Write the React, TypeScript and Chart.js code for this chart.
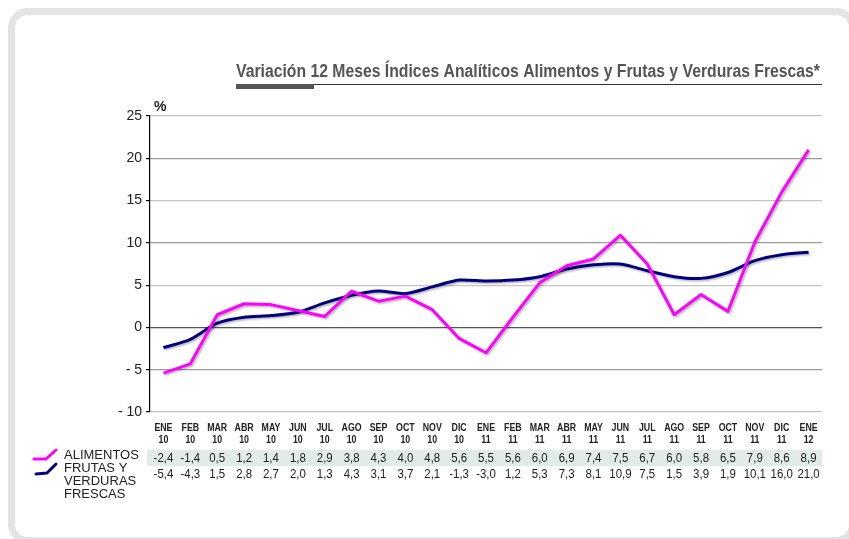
import React, { useEffect, useRef } from "react";
import { Chart, registerables } from "chart.js";

Chart.register(...registerables);

const months = ["ENE", "FEB", "MAR", "ABR", "MAY", "JUN", "JUL", "AGO", "SEP", "OCT", "NOV", "DIC", "ENE", "FEB", "MAR", "ABR", "MAY", "JUN", "JUL", "AGO", "SEP", "OCT", "NOV", "DIC", "ENE"];
const years = ["10", "10", "10", "10", "10", "10", "10", "10", "10", "10", "10", "10", "11", "11", "11", "11", "11", "11", "11", "11", "11", "11", "11", "11", "12"];
// Row labelled ALIMENTOS in the table (drawn as the navy line in the picture)
const rowAlimentos = [-2.4, -1.4, 0.5, 1.2, 1.4, 1.8, 2.9, 3.8, 4.3, 4.0, 4.8, 5.6, 5.5, 5.6, 6.0, 6.9, 7.4, 7.5, 6.7, 6.0, 5.8, 6.5, 7.9, 8.6, 8.9];
// Row labelled FRUTAS Y VERDURAS FRESCAS in the table (drawn as the magenta line)
const rowFrutas = [-5.4, -4.3, 1.5, 2.8, 2.7, 2.0, 1.3, 4.3, 3.1, 3.7, 2.1, -1.3, -3.0, 1.2, 5.3, 7.3, 8.1, 10.9, 7.5, 1.5, 3.9, 1.9, 10.1, 16.0, 21.0];
const legendLabels = ["ALIMENTOS", "FRUTAS Y VERDURAS FRESCAS"];
const title = "Variación 12 Meses Índices Analíticos Alimentos y Frutas y Verduras Frescas*";

const MAGENTA = "#ff00ff";
const NAVY = "#000080";
const fmt = (v: number) => v.toFixed(1).replace(".", ",");

export default function App() {
  const ref = useRef<HTMLCanvasElement | null>(null);

  useEffect(() => {
    const canvas = ref.current;
    if (!canvas) return;
    document.body.style.overflow = "hidden";

    const decor = {
      id: "decor",
      beforeDatasetDraw(chart: any) {
        const ctx = chart.ctx;
        ctx.shadowColor = "rgba(0,0,0,0.28)";
        ctx.shadowOffsetX = 1.5;
        ctx.shadowOffsetY = 1.5;
        ctx.shadowBlur = 2;
      },
      afterDatasetDraw(chart: any) {
        const ctx = chart.ctx;
        ctx.shadowColor = "rgba(0,0,0,0)";
        ctx.shadowOffsetX = 0;
        ctx.shadowOffsetY = 0;
        ctx.shadowBlur = 0;
      },
      afterDraw(chart: any) {
        const ctx = chart.ctx;
        const xs = chart.scales.x;
        const area = chart.chartArea;
        ctx.save();
        // table row background
        ctx.fillStyle = "#e1ece7";
        ctx.fillRect(area.left - 3, 450, area.right - area.left + 3, 16);

        // Title
        ctx.fillStyle = "#555555";
        ctx.font = "bold 18px 'Liberation Sans', Arial, sans-serif";
        ctx.textBaseline = "alphabetic";
        ctx.textAlign = "left";
        const tw = ctx.measureText(title).width;
        const targetW = 584;
        ctx.save();
        ctx.translate(236, 76.5);
        ctx.scale(targetW / tw, 1);
        ctx.fillText(title, 0, 0);
        ctx.restore();
        // underline
        ctx.strokeStyle = "#333333";
        ctx.lineWidth = 1;
        ctx.beginPath();
        ctx.moveTo(236, 84.5);
        ctx.lineTo(822, 84.5);
        ctx.stroke();
        ctx.fillStyle = "#555555";
        ctx.fillRect(236, 84, 78, 5);

        // %
        ctx.fillStyle = "#222222";
        ctx.font = "bold 14px 'Liberation Sans', Arial, sans-serif";
        ctx.textAlign = "left";
        ctx.textBaseline = "middle";
        ctx.fillText("%", 154, 107);

        // table header
        for (let i = 0; i < months.length; i++) {
          const x = xs.getPixelForValue(i);
          ctx.save();
          ctx.translate(x, 0);
          ctx.scale(0.8, 1);
          ctx.font = "bold 11px 'Liberation Sans', Arial, sans-serif";
          ctx.textAlign = "center";
          ctx.textBaseline = "middle";
          ctx.fillStyle = "#222222";
          ctx.fillText(months[i], 0, 428);
          ctx.fillText(years[i], 0, 440);
          ctx.restore();
        }
        // table values
        for (let i = 0; i < months.length; i++) {
          const x = xs.getPixelForValue(i);
          ctx.save();
          ctx.translate(x, 0);
          ctx.scale(0.88, 1);
          ctx.font = "13px 'Liberation Sans', Arial, sans-serif";
          ctx.textAlign = "center";
          ctx.textBaseline = "middle";
          ctx.fillStyle = "#222222";
          ctx.fillText(fmt(rowAlimentos[i]), 0, 458);
          ctx.fillText(fmt(rowFrutas[i]), 0, 474);
          ctx.restore();
        }

        // legend
        ctx.lineWidth = 3;
        ctx.lineJoin = "round";
        ctx.lineCap = "round";
        ctx.strokeStyle = MAGENTA;
        ctx.beginPath();
        ctx.moveTo(34, 459);
        ctx.lineTo(46, 459);
        ctx.lineTo(56, 450);
        ctx.stroke();
        ctx.strokeStyle = NAVY;
        ctx.beginPath();
        ctx.moveTo(36, 474);
        ctx.lineTo(47, 473);
        ctx.lineTo(56, 464);
        ctx.stroke();

        ctx.fillStyle = "#222222";
        ctx.font = "13px 'Liberation Sans', Arial, sans-serif";
        ctx.textAlign = "left";
        ctx.textBaseline = "middle";
        ctx.fillText(legendLabels[0], 64, 455);
        const words = ["FRUTAS Y", "VERDURAS", "FRESCAS"];
        words.forEach((w, k) => ctx.fillText(w, 64, 468 + k * 13));
        ctx.restore();
      },
    };

    const chart = new Chart(canvas, {
      type: "line",
      data: {
        labels: months.map((m, i) => m + " " + years[i]),
        datasets: [
          {
            label: legendLabels[0],
            data: rowFrutas,
            borderColor: MAGENTA,
            backgroundColor: MAGENTA,
            borderWidth: 3,
            pointRadius: 0,
            tension: 0,
            borderJoinStyle: "round",
          },
          {
            label: legendLabels[1],
            data: rowAlimentos,
            borderColor: NAVY,
            backgroundColor: NAVY,
            borderWidth: 3,
            pointRadius: 0,
            tension: 0.25,
            borderJoinStyle: "round",
          },
        ],
      },
      options: {
        responsive: false,
        animation: false,
        devicePixelRatio: 1,
        layout: { padding: { left: 90, top: 116, right: 27, bottom: 127 } },
        plugins: { legend: { display: false }, tooltip: { enabled: false }, title: { display: false } },
        scales: {
          x: {
            type: "category",
            display: false,
            offset: true,
            grid: { display: false },
            border: { display: false },
            ticks: { display: false },
          },
          y: {
            min: -10,
            max: 25,
            afterFit: (s: any) => {
              s.width = 60;
            },
            ticks: {
              stepSize: 5,
              padding: 4,
              color: "#222222",
              font: { family: "'Liberation Sans', Arial, sans-serif", size: 14 },
              callback: (v: any) => (Number(v) < 0 ? "- " + Math.abs(Number(v)) : String(v)),
            },
            border: { display: true, color: "#000000", width: 1.2 },
            grid: {
              tickLength: 4,
              tickColor: "#000000",
              lineWidth: 1.2,
              color: (c: any) => {
                const v = c.tick ? c.tick.value : 0;
                if (v === 0) return "#555555";
                if (v === 25 || v === 15 || v === 5 || v === -10) return "#c4c4c4";
                return "#9a9a9a";
              },
            },
          },
        },
      },
      plugins: [decor],
    } as any);

    return () => chart.destroy();
  }, []);

  return (
    <div style={{ position: "fixed", left: 0, top: 0, width: 849, height: 539, overflow: "hidden", background: "#ffffff" }}>
      <div
        style={{
          position: "absolute",
          left: 8,
          top: 8,
          width: 848,
          height: 536,
          boxSizing: "border-box",
          border: "7px solid #e4e4e4",
          borderRadius: 20,
        }}
      />
      <canvas ref={ref} width={849} height={539} style={{ position: "absolute", left: 0, top: 0, width: 849, height: 539 }} />
    </div>
  );
}
